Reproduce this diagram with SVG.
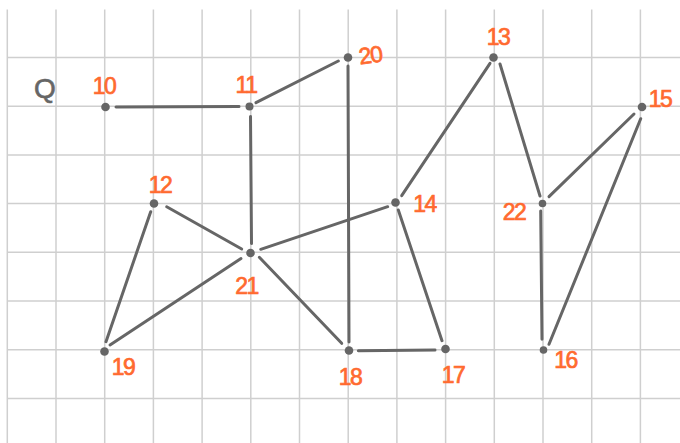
<svg xmlns="http://www.w3.org/2000/svg" width="680" height="443" viewBox="0 0 680 443">
<style>
.grid line{stroke:#cfcfcf;stroke-width:1.5}
.edges line{stroke:#666;stroke-width:3;stroke-linecap:round}
.node circle{fill:#666}
.node text{fill:#ff6a2f;stroke:#ff6a2f;stroke-width:0.7;font-family:"Liberation Sans",Arial,sans-serif;font-size:23px;letter-spacing:-1.5px;text-anchor:middle}
.q{fill:#666;stroke:#666;stroke-width:0.6;font-family:"Liberation Sans",Arial,sans-serif;font-size:28px;text-anchor:middle}
</style>
<rect width="680" height="443" fill="#fff"/>
<g class="grid">
<line x1="7.3" y1="9.5" x2="7.3" y2="443"/>
<line x1="56" y1="9.5" x2="56" y2="443"/>
<line x1="104.7" y1="9.5" x2="104.7" y2="443"/>
<line x1="153.4" y1="9.5" x2="153.4" y2="443"/>
<line x1="202.1" y1="9.5" x2="202.1" y2="443"/>
<line x1="250.8" y1="9.5" x2="250.8" y2="443"/>
<line x1="299.5" y1="9.5" x2="299.5" y2="443"/>
<line x1="348.2" y1="9.5" x2="348.2" y2="443"/>
<line x1="396.9" y1="9.5" x2="396.9" y2="443"/>
<line x1="445.6" y1="9.5" x2="445.6" y2="443"/>
<line x1="494.3" y1="9.5" x2="494.3" y2="443"/>
<line x1="543" y1="9.5" x2="543" y2="443"/>
<line x1="591.7" y1="9.5" x2="591.7" y2="443"/>
<line x1="640.4" y1="9.5" x2="640.4" y2="443"/>
<line x1="7" y1="57.5" x2="680" y2="57.5"/>
<line x1="7" y1="106.2" x2="680" y2="106.2"/>
<line x1="7" y1="154.9" x2="680" y2="154.9"/>
<line x1="7" y1="203.6" x2="680" y2="203.6"/>
<line x1="7" y1="252.3" x2="680" y2="252.3"/>
<line x1="7" y1="301" x2="680" y2="301"/>
<line x1="7" y1="349.7" x2="680" y2="349.7"/>
<line x1="7" y1="398.4" x2="680" y2="398.4"/>
</g>
<text class="q" x="45" y="98">Q</text>
<g class="edges">
<line x1="116" y1="107" x2="239" y2="106.5"/>
<line x1="256" y1="102.7" x2="338.3" y2="61"/>
<line x1="250.5" y1="116.5" x2="251.5" y2="243.5"/>
<line x1="348" y1="66" x2="349" y2="342"/>
<line x1="490" y1="63.3" x2="401.7" y2="195.7"/>
<line x1="500" y1="64" x2="540" y2="196"/>
<line x1="634" y1="114" x2="549" y2="196.7"/>
<line x1="640.7" y1="118.7" x2="549" y2="344.3"/>
<line x1="540.7" y1="211" x2="542" y2="339.3"/>
<line x1="166.7" y1="206.7" x2="241.7" y2="249"/>
<line x1="150.7" y1="211.7" x2="106" y2="341.7"/>
<line x1="241" y1="258.5" x2="110" y2="345"/>
<line x1="260.7" y1="249.3" x2="387.7" y2="206.7"/>
<line x1="259.3" y1="257.3" x2="341.7" y2="343.3"/>
<line x1="398.3" y1="210" x2="442" y2="340.7"/>
<line x1="358.3" y1="350.7" x2="435" y2="350"/>
</g>
<g id="n10" class="node"><circle cx="105.5" cy="107" r="4.3"/><text x="104" y="94">10</text></g>
<g id="n11" class="node"><circle cx="249.5" cy="106.5" r="4"/><text x="246" y="93">11</text></g>
<g id="n20" class="node"><circle cx="348" cy="57.5" r="4.3"/><text x="370" y="63" transform="rotate(-8 370 54)">20</text></g>
<g id="n13" class="node"><circle cx="493.5" cy="57.5" r="4.3"/><text x="498" y="45">13</text></g>
<g id="n15" class="node"><circle cx="642" cy="107" r="4.3"/><text x="660" y="107">15</text></g>
<g id="n12" class="node"><circle cx="154" cy="203.5" r="4.3"/><text x="160" y="193">12</text></g>
<g id="n21" class="node"><circle cx="250.5" cy="253" r="4.3"/><text x="246.5" y="294">21</text></g>
<g id="n14" class="node"><circle cx="395.5" cy="202.5" r="4.3"/><text x="424.5" y="212">14</text></g>
<g id="n22" class="node"><circle cx="542.5" cy="203.5" r="3.8"/><text x="514" y="220">22</text></g>
<g id="n19" class="node"><circle cx="104.5" cy="351.5" r="4.3"/><text x="123" y="375">19</text></g>
<g id="n18" class="node"><circle cx="349" cy="350.5" r="4.3"/><text x="350" y="385">18</text></g>
<g id="n17" class="node"><circle cx="445.5" cy="349" r="4.3"/><text x="453" y="383">17</text></g>
<g id="n16" class="node"><circle cx="543.5" cy="350" r="3.8"/><text x="565.5" y="368">16</text></g>
</svg>
